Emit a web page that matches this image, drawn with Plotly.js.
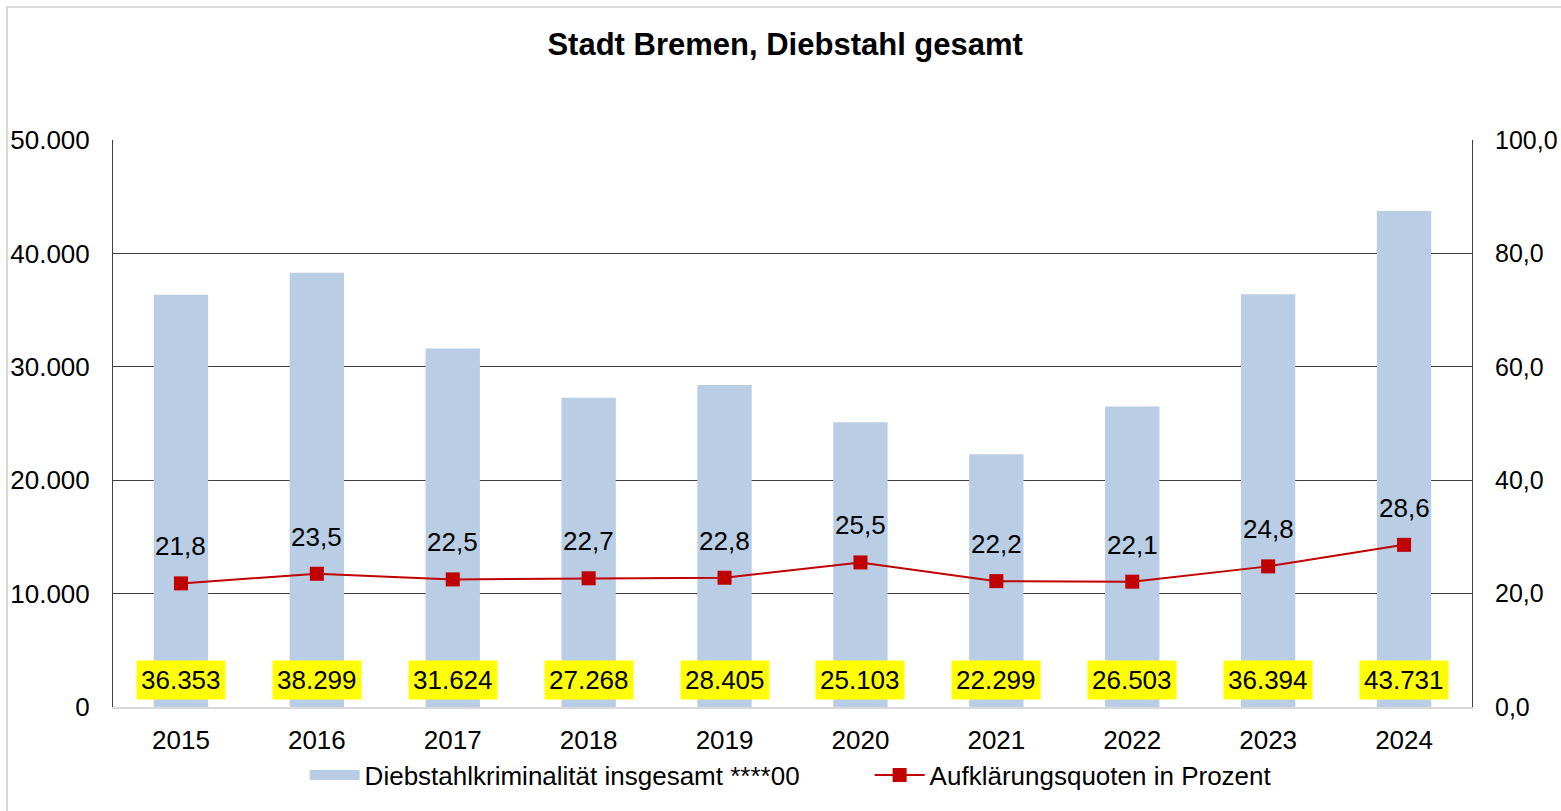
<!DOCTYPE html>
<html>
<head>
<meta charset="utf-8">
<script src="https://cdn.plot.ly/plotly-3.0.1.min.js"></script>
<style>
  html, body { margin: 0; padding: 0; background: #fff; overflow: hidden; }
  #chart { width: 1561px; height: 811px; }
  #frame { position: absolute; left: 6px; top: 6px; width: 1600px; height: 900px;
           border-left: 2px solid #d9d9d9; border-top: 2px solid #d9d9d9; pointer-events: none; }
</style>
</head>
<body>
<div id="chart"></div>
<div id="frame"></div>
<script>
const years = ['2015','2016','2017','2018','2019','2020','2021','2022','2023','2024'];
const theftTotal = [36353, 38299, 31624, 27268, 28405, 25103, 22299, 26503, 36394, 43731];
const clearanceRate = [21.8, 23.5, 22.5, 22.7, 22.8, 25.5, 22.2, 22.1, 24.8, 28.6];
const barName = 'Diebstahlkriminalität insgesamt ****00';
const lineName = 'Aufklärungsquoten in Prozent';
const chartTitle = 'Stadt Bremen, Diebstahl gesamt';

const FONT = 'Liberation Sans, Arial, sans-serif';
const BAR_COLOR = '#B9CDE5';
const LINE_COLOR = '#C00000';

function fmtThousands(v) {
  return String(v).replace(/\B(?=(\d{3})+(?!\d))/g, '.');
}
function fmtPct(v) {
  return v.toFixed(1).replace('.', ',');
}

const bars = {
  type: 'bar', x: years, y: theftTotal, name: barName, showlegend: false,
  marker: { color: BAR_COLOR }, hoverinfo: 'skip'
};
// legend-only entry drawn as a wide band, like the reference's bar key
const barKey = {
  type: 'scatter', mode: 'lines', x: [null], y: [null], name: barName,
  line: { color: BAR_COLOR, width: 16 }, hoverinfo: 'skip'
};
const line = {
  type: 'scatter', mode: 'lines+markers', x: years, y: clearanceRate, yaxis: 'y2', name: lineName,
  line: { color: LINE_COLOR, width: 2 },
  marker: { symbol: 'square', size: 14, color: LINE_COLOR }, hoverinfo: 'skip'
};

const annotations = [];
years.forEach((yr, i) => {
  annotations.push({
    x: i, xref: 'x', y: 0.0476, yref: 'paper', yanchor: 'middle',
    text: fmtThousands(theftTotal[i]), showarrow: false,
    bgcolor: '#FFFF00', borderpad: 4,
    font: { family: FONT, size: 26, color: '#000' }
  });
  annotations.push({
    x: i, xref: 'x', y: clearanceRate[i], yref: 'y2', yanchor: 'bottom',
    yshift: 20, text: fmtPct(clearanceRate[i]), showarrow: false,
    font: { family: FONT, size: 26, color: '#000' }
  });
});

const layout = {
  width: 1561, height: 811,
  margin: { l: 113, r: 89, t: 140, b: 104, autoexpand: false },
  paper_bgcolor: '#fff', plot_bgcolor: '#fff',
  separators: ',.',
  font: { family: FONT, size: 26, color: '#000' },
  title: { text: '<b>' + chartTitle + '</b>', x: 0.503, xanchor: 'center', y: 0.945, yanchor: 'middle',
           font: { family: FONT, size: 31, color: '#000' } },
  bargap: 0.6,
  showlegend: true,
  legend: { orientation: 'h', x: 0.141, xanchor: 'left', y: -0.12, yanchor: 'middle',
            font: { family: FONT, size: 26, color: '#000' }, traceorder: 'normal',
            itemwidth: 50, entrywidth: 500, entrywidthmode: 'pixels', bgcolor: 'rgba(0,0,0,0)' },
  xaxis: {
    type: 'category', range: [-0.5, 9.5], showgrid: false, showline: true, linecolor: '#d9d9d9', linewidth: 2,
    ticks: '', ticklabelstandoff: 9, tickfont: { family: FONT, size: 26 }, fixedrange: true, automargin: false
  },
  yaxis: {
    range: [0, 50000], dtick: 10000, tickformat: ',d', showgrid: true, gridcolor: '#404040', gridwidth: 1,
    zeroline: false, showline: true, linecolor: '#404040', linewidth: 1,
    ticks: '', ticklabelstandoff: 17, tickfont: { family: FONT, size: 26 }, fixedrange: true, automargin: false
  },
  yaxis2: {
    overlaying: 'y', side: 'right', range: [0, 100], dtick: 20, tickformat: '.1f',
    showgrid: false, zeroline: false, showline: true, linecolor: '#404040', linewidth: 1,
    ticks: '', ticklabelstandoff: 17, tickfont: { family: FONT, size: 25 }, fixedrange: true, automargin: false
  },
  annotations: annotations
};

Plotly.newPlot('chart', [bars, barKey, line], layout, { displayModeBar: false, staticPlot: true });
</script>
</body>
</html>
